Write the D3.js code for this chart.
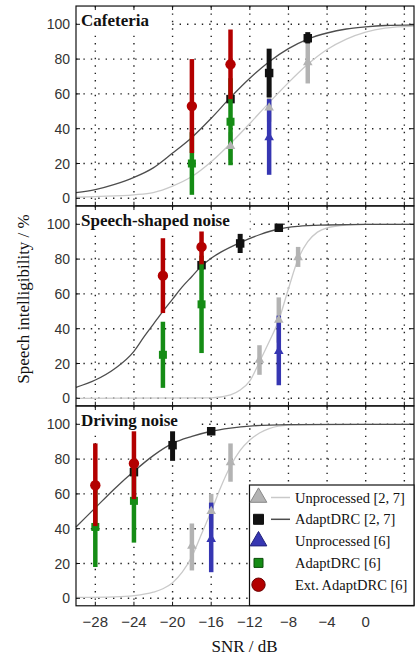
<!DOCTYPE html>
<html>
<head>
<meta charset="utf-8">
<script src="https://cdn.jsdelivr.net/npm/d3@7"></script>
<style>
  body { margin: 0; background: #fff; }
  svg { display: block; }
  .tick-label { font-family: "Liberation Sans", Arial, sans-serif; fill: #333; }
  .serif { font-family: "Liberation Serif", "Times New Roman", serif; fill: #111; }
</style>
</head>
<body>
<svg id="chart" width="417" height="657"></svg>
<script>
// panels and ticks
const panels = ["Cafeteria", "Speech-shaped noise", "Driving noise"];
const snrTicks = [-28, -24, -20, -16, -12, -8, -4, 0, 4];
const snrLabels = ["\u221228", "\u221224", "\u221220", "\u221216", "\u221212", "\u22128", "\u22124", "0", ""];
const pctTicks = [0, 20, 40, 60, 80, 100];

// fitted psychometric curves, one list per panel: [SNR, %]
const unproc27Curve = [
  [[-30, 0.6], [-28, 1], [-24, 2], [-22, 3.3], [-20, 7], [-18, 12.5], [-16, 21], [-14, 31.5], [-12, 43], [-10, 55], [-8, 66.5], [-6, 77], [-4, 85.5], [-2, 91.5], [0, 95.5], [2, 97.8], [5, 99]],
  [[-30, 0], [-16, 0.3], [-14, 2], [-13, 4.8], [-12, 10], [-11, 21], [-10, 32.5], [-9, 45], [-8, 63], [-7, 80], [-6, 90], [-5, 95.5], [-4, 98], [-2, 99.6], [0, 100], [5, 100]],
  [[-30, 0.5], [-26, 0.8], [-24, 1.5], [-22, 3.5], [-21, 5.5], [-20, 9], [-19, 15], [-18, 24], [-17, 37], [-16, 50], [-15, 64], [-14, 76], [-13, 85], [-12, 91], [-11, 95], [-10, 97.5], [-8, 99.5], [-4, 100], [5, 100]]
];
const adapt27Curve = [
  [[-30, 3.3], [-28, 5], [-26, 8], [-24, 12], [-22, 17.5], [-20, 26], [-18, 35], [-16, 46], [-14, 58], [-12, 69], [-10, 78.5], [-8, 86], [-6, 91.5], [-4, 95], [-2, 97.3], [0, 98.5], [2, 99.3], [5, 99.7]],
  [[-30, 6.3], [-28, 10.5], [-26, 17], [-24, 27], [-23, 35], [-22, 42.5], [-21, 50], [-20, 57], [-19, 64], [-18, 70], [-17, 76], [-16, 80.5], [-15, 84], [-13, 89.5], [-11, 94], [-9, 97.3], [-7, 98.8], [-4, 99.6], [0, 100], [5, 100]],
  [[-30, 41], [-28, 52], [-26, 63], [-24, 73], [-22, 82], [-20, 89], [-18, 93], [-16, 96], [-14, 97.8], [-12, 99], [-8, 99.8], [0, 100], [5, 100]]
];

// measured points: panel, SNR, mean, error bar low/high
const unproc27 = [
  { p: 0, snr: -14, m: 30, lo: 22, hi: 38 },
  { p: 0, snr: -10, m: 52, lo: 44, hi: 60 },
  { p: 0, snr: -6, m: 78, lo: 66, hi: 90 },
  { p: 1, snr: -11, m: 22, lo: 13.5, hi: 30.5 },
  { p: 1, snr: -9, m: 45, lo: 32, hi: 58 },
  { p: 1, snr: -7, m: 81, lo: 75.5, hi: 87 },
  { p: 2, snr: -18, m: 30, lo: 16, hi: 43 },
  { p: 2, snr: -16, m: 50, lo: 40, hi: 60 },
  { p: 2, snr: -14, m: 78, lo: 67, hi: 89 }
];
const adapt27 = [
  { p: 0, snr: -14, m: 57, lo: 55, hi: 59 },
  { p: 0, snr: -10, m: 72, lo: 58, hi: 86 },
  { p: 0, snr: -6, m: 92, lo: 89, hi: 95.5 },
  { p: 1, snr: -17, m: 76.5, lo: 74, hi: 79 },
  { p: 1, snr: -13, m: 89, lo: 83.5, hi: 94.5 },
  { p: 1, snr: -9, m: 98, lo: 96.5, hi: 99.5 },
  { p: 2, snr: -24, m: 72.5, lo: 71, hi: 74 },
  { p: 2, snr: -20, m: 88, lo: 79, hi: 97 },
  { p: 2, snr: -16, m: 96, lo: 94, hi: 98 }
];
const unproc6 = [
  { p: 0, snr: -10, m: 35, lo: 13.5, hi: 57 },
  { p: 1, snr: -9, m: 27, lo: 7.5, hi: 47.5 },
  { p: 2, snr: -16, m: 34, lo: 15, hi: 55 }
];
const adapt6 = [
  { p: 0, snr: -18, m: 20, lo: 2, hi: 38 },
  { p: 0, snr: -14, m: 44, lo: 19, hi: 69 },
  { p: 1, snr: -21, m: 25, lo: 6, hi: 44 },
  { p: 1, snr: -17, m: 54, lo: 26, hi: 82 },
  { p: 2, snr: -28, m: 41, lo: 18, hi: 64 },
  { p: 2, snr: -24, m: 56, lo: 32, hi: 80 }
];
const ext6 = [
  { p: 0, snr: -18, m: 53, lo: 26, hi: 80 },
  { p: 0, snr: -14, m: 77, lo: 57, hi: 97 },
  { p: 1, snr: -21, m: 70.5, lo: 49, hi: 92 },
  { p: 1, snr: -17, m: 87, lo: 77, hi: 96 },
  { p: 2, snr: -28, m: 65, lo: 41.5, hi: 89 },
  { p: 2, snr: -24, m: 77.5, lo: 57, hi: 97 }
];

const legendLabels = ["Unprocessed [2, 7]", "AdaptDRC [2, 7]", "Unprocessed [6]", "AdaptDRC [6]", "Ext. AdaptDRC [6]"];

const col = { gray: "#b3b3b3", black: "#111", blue: "#3636b2", green: "#158c15", red: "#b30000", light: "#c9c9c9", dark: "#4d4d4d" };

const svg = d3.select("#chart");
const x = d3.scaleLinear().domain([-30, 5]).range([76, 414]);
const y = panels.map((d, i) => d3.scaleLinear().domain([0, 100]).range([198.3 + 200 * i, 24.3 + 200 * i]));
const tri = d3.symbol().type(d3.symbolTriangle);
const sq = d3.symbol().type(d3.symbolSquare);
const circ = d3.symbol().type(d3.symbolCircle);

const line = yi => d3.line().x(d => x(d[0])).y(d => yi(d[1])).curve(d3.curveMonotoneX);

panels.forEach((name, i) => {
  const yi = y[i];
  const g = svg.append("g").attr("class", "panel");
  const top = yi(110.5), bottom = yi(-4.3);

  // dotted grid
  g.selectAll(".vg").data(snrTicks).join("line").attr("x1", d => x(d)).attr("x2", d => x(d))
    .attr("y1", top).attr("y2", bottom).attr("stroke", "#222").attr("stroke-width", 1.4).attr("stroke-dasharray", "1.4,6");
  g.selectAll(".hg").data(pctTicks).join("line").attr("x1", x(-30)).attr("x2", x(5))
    .attr("y1", d => yi(d)).attr("y2", d => yi(d)).attr("stroke", "#222").attr("stroke-width", 1.4).attr("stroke-dasharray", "1.4,6");

  // fitted curves
  g.append("path").datum(unproc27Curve[i]).attr("d", line(yi)).attr("fill", "none").attr("stroke", col.light).attr("stroke-width", 1.3);
  g.append("path").datum(adapt27Curve[i]).attr("d", line(yi)).attr("fill", "none").attr("stroke", col.dark).attr("stroke-width", 1.3);

  const bars = (data, color, w) => g.append("g").selectAll("line").data(data.filter(d => d.p === i)).join("line")
    .attr("x1", d => x(d.snr)).attr("x2", d => x(d.snr)).attr("y1", d => yi(d.lo)).attr("y2", d => yi(d.hi))
    .attr("stroke", color).attr("stroke-width", w);
  const marks = (data, sym, size, color) => g.append("g").selectAll("path").data(data.filter(d => d.p === i)).join("path")
    .attr("d", sym.size(size)).attr("transform", d => `translate(${x(d.snr)},${yi(d.m)})`).attr("fill", color);

  bars(unproc27, col.gray, 4.5);
  bars(adapt27, col.black, 5);
  marks(adapt27, sq, 72, col.black);
  bars(adapt6, col.green, 4.5);
  marks(adapt6, sq, 64, col.green);
  bars(unproc6, col.blue, 4.5);
  marks(unproc6, tri, 40, col.blue);
  bars(ext6, col.red, 4.5);
  marks(ext6, circ, 85, col.red);
  marks(unproc27, tri, 40, col.gray);

  // title with white backing
  const title = g.append("text").attr("class", "serif").attr("x", 81).attr("y", yi(100) + 2)
    .style("font-size", "17px").style("font-weight", "bold").text(name);
  const tw = title.node().getComputedTextLength();
  g.insert("rect", "text").attr("x", 77).attr("y", top + 3).attr("width", tw + 24).attr("height", yi(100) + 7 - top - 3).attr("fill", "#fff");

  // frame and inward ticks
  g.append("rect").attr("x", x(-30)).attr("y", top).attr("width", x(5) - x(-30)).attr("height", bottom - top)
    .attr("fill", "none").attr("stroke", "#111").attr("stroke-width", 1.2);
  g.selectAll(".xt").data(snrTicks).join("path")
    .attr("d", d => `M${x(d)},${top}v4M${x(d)},${bottom}v-4`).attr("stroke", "#111").attr("stroke-width", 1);
  g.selectAll(".yt").data(pctTicks).join("path")
    .attr("d", d => `M${x(-30)},${yi(d)}h4M${x(5)},${yi(d)}h-4`).attr("stroke", "#111").attr("stroke-width", 1);

  // y tick labels
  g.selectAll(".yl").data(pctTicks).join("text").attr("class", "tick-label").attr("x", 70).attr("y", d => yi(d))
    .attr("dy", "0.36em").attr("text-anchor", "end").style("font-size", "14px").text(d => d);
});

// x tick labels under the last panel
svg.append("g").selectAll("text").data(snrTicks).join("text").attr("class", "tick-label")
  .attr("x", d => x(d)).attr("y", 627).attr("text-anchor", "middle").style("font-size", "15px")
  .text((d, i) => snrLabels[i]);

svg.append("text").attr("class", "serif").attr("x", 244.5).attr("y", 652).attr("text-anchor", "middle")
  .style("font-size", "17px").text("SNR / dB");
svg.append("text").attr("class", "serif").attr("transform", "translate(29,299) rotate(-90)").attr("text-anchor", "middle")
  .style("font-size", "17px").text("Speech intelligibility / %");

// legend
const lg = svg.append("g");
lg.append("rect").attr("x", 249.5).attr("y", 485).attr("width", 164.5).attr("height", 120.5)
  .attr("fill", "#fff").attr("stroke", "#111").attr("stroke-width", 1.2);
const rowY = i => 497.5 + i * 21.8;
const legendSyms = [
  { sym: tri, size: 120, fill: col.gray, stroke: "#888", line: col.light },
  { sym: sq, size: 100, fill: col.black, stroke: "#111", line: col.dark },
  { sym: tri, size: 120, fill: col.blue, stroke: "#22227a", line: null },
  { sym: sq, size: 81, fill: col.green, stroke: "#0a4d0a", line: null },
  { sym: circ, size: 140, fill: col.red, stroke: "#6a0000", line: null }
];
legendLabels.forEach((label, i) => {
  const s = legendSyms[i];
  if (s.line) lg.append("line").attr("x1", 271).attr("x2", 290).attr("y1", rowY(i)).attr("y2", rowY(i)).attr("stroke", s.line).attr("stroke-width", 1.5);
  lg.append("path").attr("d", s.sym.size(s.size)).attr("transform", `translate(258.5,${rowY(i)})`)
    .attr("fill", s.fill).attr("stroke", s.stroke).attr("stroke-width", 1);
  lg.append("text").attr("class", "serif").attr("x", 295).attr("y", rowY(i) + 5).style("font-size", "14.5px").text(label);
});
</script>
</body>
</html>
